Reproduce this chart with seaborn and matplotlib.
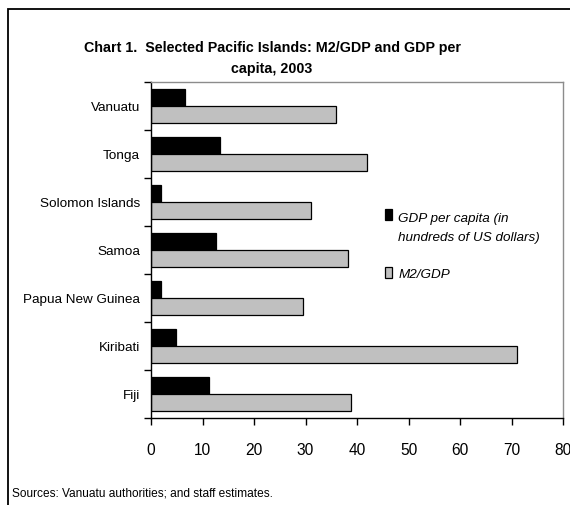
import matplotlib
matplotlib.use("Agg")
import matplotlib.pyplot as plt
from matplotlib.patches import Rectangle
from matplotlib.legend_handler import HandlerPatch
import numpy as np
import pandas as pd
import seaborn as sns

countries = ["Vanuatu", "Tonga", "Solomon Islands", "Samoa", "Papua New Guinea", "Kiribati", "Fiji"]
gdp_per_capita = [6.6, 13.4, 1.9, 12.6, 1.9, 4.9, 11.3]
m2_gdp = [36.0, 42.0, 31.1, 38.3, 29.6, 71.1, 38.9]
series_names = ["GDP per capita (in\nhundreds of US dollars)", "M2/GDP"]
x_ticks = [0, 10, 20, 30, 40, 50, 60, 70, 80]

df = pd.DataFrame({
    "country": countries * 2,
    "value": gdp_per_capita + m2_gdp,
    "series": [series_names[0]] * len(countries) + [series_names[1]] * len(countries),
})

sns.set_theme(style="white", rc={"text.color": "black", "xtick.color": "black",
                                 "ytick.color": "black"})
plt.rcParams["font.family"] = ["Liberation Sans", "DejaVu Sans"]

fig = plt.figure(figsize=(5.7, 5.06), dpi=100)
ax = fig.add_axes([151 / 570, 87 / 506, 412 / 570, 336 / 506])

sns.barplot(
    data=df, y="country", x="value", hue="series", order=countries,
    hue_order=series_names, palette=["black", "#c0c0c0"], orient="h",
    width=0.7, edgecolor="black", linewidth=0.9, ax=ax, saturation=1,
)

ax.set_xlim(0, 80)
ax.set_ylim(len(countries) - 0.5, -0.5)
ax.set_xticks(x_ticks)
ax.set_xlabel("")
ax.set_ylabel("")
ax.tick_params(axis="x", direction="out", length=5, width=1, color="black",
               labelcolor="black", labelsize=11.2, pad=12, bottom=True)
ax.tick_params(axis="y", which="major", length=0, labelsize=9.7, pad=8, labelcolor="black")
ax.set_yticks(np.arange(-0.5, len(countries), 1.0), minor=True)
ax.tick_params(axis="y", which="minor", direction="out", length=5, width=1,
               color="black", left=True)
for s in ["left", "bottom"]:
    ax.spines[s].set_color("black")
    ax.spines[s].set_linewidth(1)
for s in ["top", "right"]:
    ax.spines[s].set_color("#8c8c8c")
    ax.spines[s].set_linewidth(1)


# legend square sits beside the first text line, as in the original
def top_square(legend, orig_handle, xdescent, ydescent, width, height, fontsize):
    return Rectangle((-xdescent, -ydescent + 0.95 * fontsize), width, height)


def plain_square(legend, orig_handle, xdescent, ydescent, width, height, fontsize):
    return Rectangle((-xdescent, -ydescent), width, height)


handles, labels = ax.get_legend_handles_labels()
leg = ax.legend(
    handles, labels, frameon=False, loc="upper left",
    bbox_to_anchor=(378 / 570, 1 - 206 / 506), bbox_transform=fig.transFigure,
    prop={"style": "italic", "size": 9.7}, handlelength=0.55, handleheight=0.9,
    handletextpad=0.45, labelspacing=1.75, borderpad=0,
    handler_map={handles[0]: HandlerPatch(patch_func=top_square),
                 handles[1]: HandlerPatch(patch_func=plain_square)},
)
for t in leg.get_texts():
    t.set_linespacing(1.8)
    t.set_color("black")

fig.text(272 / 570, 1 - 58.5 / 506,
         "Chart 1.  Selected Pacific Islands: M2/GDP and GDP per\ncapita, 2003",
         ha="center", va="center", fontsize=10.3, fontweight="bold", linespacing=1.55,
         color="black")
fig.text(12 / 570, 1 - 494 / 506, "Sources: Vanuatu authorities; and staff estimates.",
         ha="left", va="center", fontsize=8.6, color="black")

fig.add_artist(Rectangle((8 / 570, -0.2), 1.0, 1.2 - 10 / 506, transform=fig.transFigure,
                         fill=False, edgecolor="black", linewidth=1.3))

fig.savefig("out.png", dpi=100)
